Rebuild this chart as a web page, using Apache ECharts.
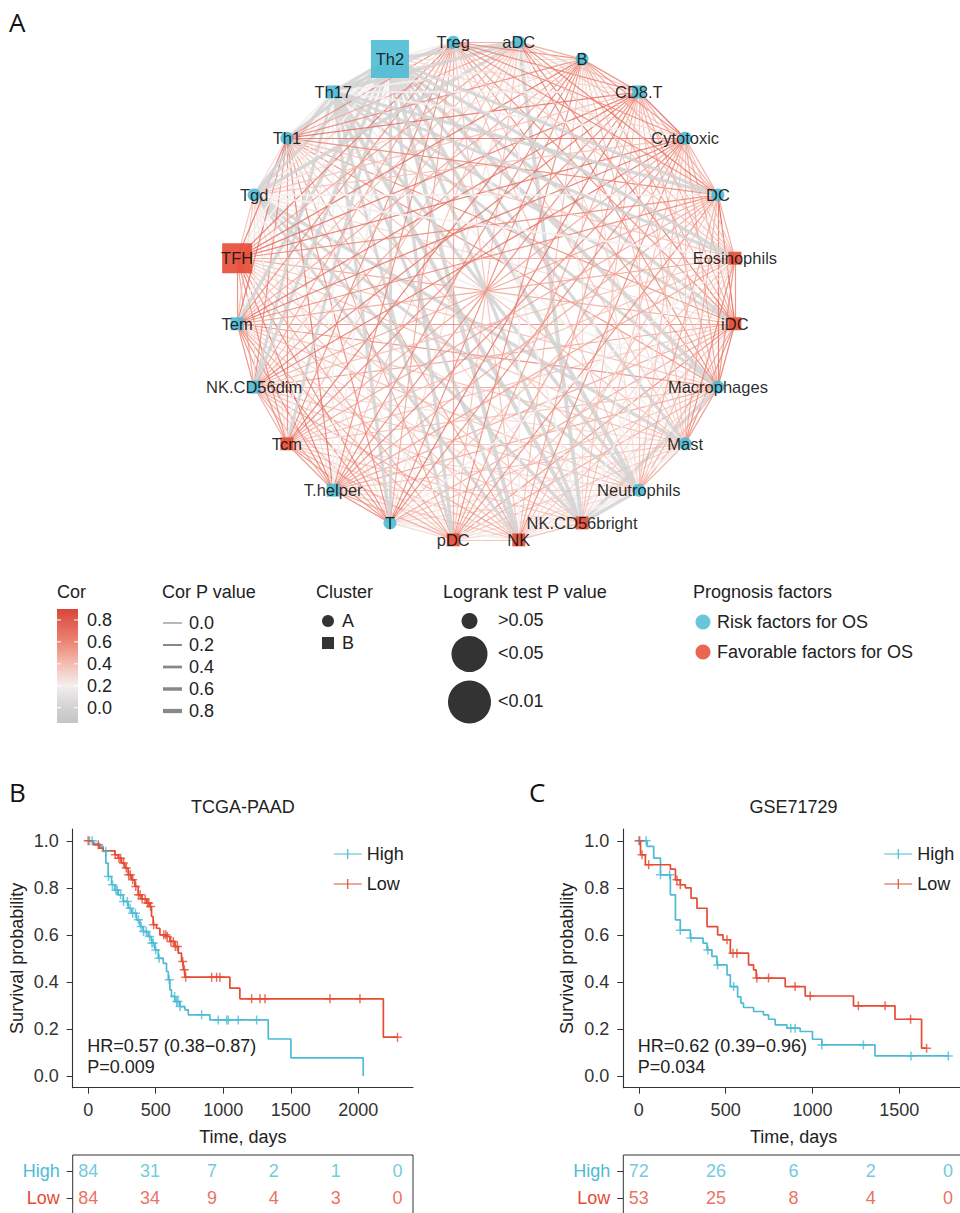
<!DOCTYPE html>
<html>
<head>
<meta charset="utf-8">
<title>Immune cell network and survival</title>
<script src="https://cdn.jsdelivr.net/npm/echarts@6.0.0/dist/echarts.min.js"></script>
<style>
html,body{margin:0;padding:0;background:#ffffff;}
#chart{width:960px;height:1213px;}
</style>
</head>
<body>
<div id="chart"></div>
<script>
/* ================= DATA ================= */
/* Panel A: immune-cell correlation network */
const cellTypes = ['iDC','Macrophages','Mast','Neutrophils','NK.CD56bright','NK','pDC','T','T.helper','Tcm','NK.CD56dim','Tem','TFH','Tgd','Th1','Th17','Th2','Treg','aDC','B','CD8.T','Cytotoxic','DC','Eosinophils'];
const cellCluster = ['B','A','A','A','B','B','B','A','B','B','B','B','B','A','A','B','B','A','A','A','B','A','A','B'];
const cellPrognosis = ['Favorable','Risk','Risk','Risk','Favorable','Favorable','Favorable','Risk','Risk','Favorable','Risk','Risk','Favorable','Risk','Risk','Risk','Risk','Risk','Risk','Risk','Risk','Risk','Risk','Favorable'];
const cellLogrankP = ['>0.05','>0.05','>0.05','>0.05','>0.05','>0.05','>0.05','>0.05','>0.05','>0.05','>0.05','>0.05','<0.05','>0.05','>0.05','>0.05','<0.01','>0.05','>0.05','>0.05','>0.05','>0.05','>0.05','>0.05'];
/* upper triangle, row i lists pairs (i, j>i); digit = Cor x 10 */
const corRows = [
 '76524655456536006755586','6503545456426006645576','523434434404204344456','02334344304004234454',
 '4323443403002034423','424454405004245643','35545525005465564','6656636005367642',
 '656737226466655','56636206476554','6536005457754','647206457765','47227577765',
 '3003034422','206567764','00022200','2033300','566664','54474','6654','854','54','5'];
/* same layout; digit = Cor P value x 10 */
const corPRows = [
 '00020000000000560000000','0060000000020580000000','030000000060250000000','63000000050680200000',
 '0020000060863700020','030000050680200000','00000020560000000','0000000650000002',
 '000000230000000','00000250000000','0000560000000','000260000000','00320000000',
 '0650600023','350000000','65732365','2600056','000000','00000','0000','000','00','0'];
const corLegendTicks = [0.8, 0.6, 0.4, 0.2, 0.0];
const pLegendTicks = [0.0, 0.2, 0.4, 0.6, 0.8];
const clusterLevels = ['A', 'B'];
const logrankLevels = ['>0.05', '<0.05', '<0.01'];
const prognosisLevels = ['Risk factors for OS', 'Favorable factors for OS'];

/* Panel B: TCGA-PAAD */
const tcgaHighTime = [0,40,86,111,131,148,173,198,222,259,296,321,358,383,407,444,469,494,519,556,580,593,605,617,642,679,716,741,901,1333,1501,2036];
const tcgaHighSurv = [1.0,0.988,0.976,0.955,0.905,0.848,0.813,0.791,0.77,0.742,0.713,0.692,0.664,0.635,0.614,0.593,0.565,0.536,0.5,0.479,0.444,0.409,0.366,0.338,0.316,0.295,0.281,0.26,0.238,0.157,0.077,0.0];
const tcgaHighCensor = [10,30,130,150,180,205,215,240,262,290,310,330,350,372,392,410,430,455,472,482,500,525,600,640,655,665,680,840,963,1025,1037,1111,1247];
const tcgaLowTime = [0,37,79,111,198,222,247,272,296,321,346,370,395,432,457,469,481,506,531,580,605,642,667,691,704,716,1049,1123,2185];
const tcgaLowSurv = [1.0,0.983,0.969,0.957,0.94,0.926,0.905,0.884,0.855,0.834,0.806,0.77,0.752,0.735,0.72,0.678,0.643,0.628,0.6,0.593,0.572,0.55,0.522,0.487,0.451,0.42,0.373,0.328,0.165];
const tcgaLowCensor = [0,75,200,228,240,262,282,300,312,330,352,372,385,400,422,440,448,462,485,560,575,585,612,630,645,660,700,712,722,914,951,975,1210,1272,1309,1790,2012,2290];
const tcgaRiskTimes = [0,458,916,1374,1832,2290];
const tcgaRiskHigh = [84,31,7,2,1,0];
const tcgaRiskLow = [84,34,9,4,3,0];
const tcgaStats = ['HR=0.57 (0.38\u22120.87)', 'P=0.009'];

/* Panel C: GSE71729 */
const gseHighTime = [0,48,86,125,182,211,239,297,370,393,421,450,508,527,569,588,603,661,718,747,785,853,929,1000,1054,1360];
const gseHighSurv = [1.0,0.976,0.926,0.855,0.77,0.664,0.62,0.586,0.565,0.536,0.508,0.472,0.43,0.38,0.336,0.31,0.291,0.274,0.26,0.241,0.217,0.203,0.189,0.156,0.132,0.085];
const gseHighCensor = [0,42,125,178,239,300,398,454,546,875,900,1054,1293,1567,1782];
const gseLowTime = [0,10,38,182,211,239,268,301,335,393,454,485,527,632,661,676,843,958,1236,1475,1628];
const gseLowSurv = [1.0,0.94,0.898,0.879,0.834,0.813,0.8,0.756,0.713,0.635,0.6,0.579,0.522,0.472,0.451,0.416,0.38,0.34,0.298,0.241,0.118];
const gseLowCensor = [5,19,57,220,239,508,542,565,680,747,900,987,1264,1418,1565,1657];
const gseRiskTimes = [0,445,890,1335,1780];
const gseRiskHigh = [72,26,6,2,0];
const gseRiskLow = [53,25,8,4,0];
const gseStats = ['HR=0.62 (0.39\u22120.96)', 'P=0.034'];

const riskGroups = ['High', 'Low'];
const xTicksB = [0,500,1000,1500,2000];
const xTicksC = [0,500,1000,1500];
const yTicks = [0,0.2,0.4,0.6,0.8,1.0];

/* ================= STYLE ================= */
const FONT = '"Liberation Sans", Arial, Helvetica, sans-serif';
const TEAL = '#4DBBD5', RED = '#E64B35', INK = '#222222', AX = '#333333';
const progColor = {Risk: '#4DBBD5', Favorable: '#E64B35'};
const nodeSize = {'>0.05': 13, '<0.05': 30, '<0.01': 38};
const legendDot = {'>0.05': 8, '<0.05': 18, '<0.01': 21.5};
const corStops = [[-0.14,'#c4c4c4'],[0.0,'#d2d2d2'],[0.2,'#f3efee'],[0.4,'#f5bcb2'],[0.6,'#ec8575'],[0.9,'#d8463a']];
function corColor(v){
  for (let i = 1; i < corStops.length; i++) {
    if (v <= corStops[i][0]) {
      const t = (v - corStops[i-1][0]) / (corStops[i][0] - corStops[i-1][0]);
      return echarts.color.lerp(Math.max(0, Math.min(1, t)), [corStops[i-1][1], corStops[i][1]]);
    }
  }
  return corStops[corStops.length-1][1];
}
const pWidth = p => 1.2 + p * 3.8;

/* ================= NETWORK ================= */
const nodes = cellTypes.map((name, i) => ({
  name: name,
  value: [1, i],
  symbol: cellCluster[i] === 'A' ? 'circle' : 'rect',
  symbolSize: nodeSize[cellLogrankP[i]],
  itemStyle: {color: progColor[cellPrognosis[i]], opacity: 0.9}
}));
const links = [];
corRows.forEach((row, i) => {
  for (let k = 0; k < row.length; k++) {
    const j = i + 1 + k;
    const cor = +row[k] / 10, p = +corPRows[i][k] / 10;
    links.push({source: cellTypes[i], target: cellTypes[j],
      lineStyle: {color: corColor(cor), width: pWidth(p), opacity: 0.85}});
  }
});

/* ================= KM PANELS ================= */
function survAt(T, S, t){ let s = S[0]; for (let i = 0; i < T.length; i++) { if (T[i] <= t) s = S[i]; else break; } return s; }
function stepData(T, S, C){
  const d = T.map((t, i) => [t, S[i]]);
  const last = Math.max.apply(null, C);
  if (last > T[T.length-1]) d.push([last, S[S.length-1]]);
  return d;
}
const plusIcon = 'path://M5,0L5,10M0,5L10,5';
const panels = [
  {title: 'TCGA-PAAD', left: 72.7, width: 340.3,
   hT: tcgaHighTime, hS: tcgaHighSurv, hC: tcgaHighCensor, lT: tcgaLowTime, lS: tcgaLowSurv, lC: tcgaLowCensor,
   rT: tcgaRiskTimes, rH: tcgaRiskHigh, rL: tcgaRiskLow, xTicks: xTicksB, stats: tcgaStats},
  {title: 'GSE71729', left: 623.3, width: 340.5,
   hT: gseHighTime, hS: gseHighSurv, hC: gseHighCensor, lT: gseLowTime, lS: gseLowSurv, lC: gseLowCensor,
   rT: gseRiskTimes, rH: gseRiskHigh, rL: gseRiskLow, xTicks: xTicksC, stats: gseStats}
];

const grids = [], xAxes = [], yAxes = [], series = [], legends = [], graphics = [];
const txtStyle = (size, color) => ({fontSize: size, color: color, fontFamily: FONT});
function addText(x, y, s, size, color, align, family){
  graphics.push({type: 'text', x: x, y: y, silent: true,
    style: {text: s, fill: color || INK, font: (size || 18) + 'px ' + (family || FONT),
      textAlign: align || 'left', textVerticalAlign: 'middle', align: align || 'left', verticalAlign: 'middle'}});
}

panels.forEach((P, pi) => {
  const gi = pi * 2;
  const tmax = Math.max.apply(null, P.hT.concat(P.lT, P.hC, P.lC));
  const xmin = -0.05 * tmax, xmax = 1.05 * tmax;
  grids.push({left: P.left, top: 829, width: P.width, height: 258.7, containLabel: false, outerBoundsMode: 'none'});
  grids.push({left: P.left, top: 1155, width: P.width, height: 100, show: true, borderColor: AX, borderWidth: 1,
    backgroundColor: 'transparent', containLabel: false, outerBoundsMode: 'none'});
  xAxes.push({gridIndex: gi, type: 'value', min: xmin, max: xmax,
    axisLine: {show: true, onZero: false, lineStyle: {color: AX, width: 1.1}},
    axisTick: {show: true, customValues: P.xTicks, length: 6, lineStyle: {color: AX}},
    axisLabel: {customValues: P.xTicks, margin: 13, formatter: v => String(Math.round(+v)), ...txtStyle(18, AX)},
    splitLine: {show: false},
    name: 'Time, days', nameLocation: 'middle', nameGap: 40, nameTextStyle: txtStyle(18, INK)});
  yAxes.push({gridIndex: gi, type: 'value', min: -0.05, max: 1.05,
    axisLine: {show: true, onZero: false, lineStyle: {color: AX, width: 1.1}},
    axisTick: {show: true, customValues: yTicks, length: 6, lineStyle: {color: AX}},
    axisLabel: {customValues: yTicks, margin: 14, formatter: v => (+v).toFixed(1), ...txtStyle(18, AX)},
    splitLine: {show: false},
    name: 'Survival probability', nameLocation: 'middle', nameRotate: 90, nameGap: 47, nameTextStyle: txtStyle(18, INK)});
  xAxes.push({gridIndex: gi + 1, type: 'value', min: xmin, max: xmax, show: false,
    axisLine: {onZero: false}, splitLine: {show: false}});
  yAxes.push({gridIndex: gi + 1, type: 'value', min: -0.6, max: 3.1, inverse: true, position: 'left',
    axisLine: {show: false, onZero: false},
    axisTick: {show: true, inside: false, customValues: [0, 1], length: 6, lineStyle: {color: AX}},
    axisLabel: {customValues: [0, 1], margin: 13, hideOverlap: false, formatter: v => riskGroups[Math.round(+v)],
      color: v => (Math.round(+v) === 0 ? TEAL : RED), fontSize: 18, fontFamily: FONT},
    splitLine: {show: false}});

  [['High', P.hT, P.hS, P.hC, TEAL, P.rH, 0], ['Low', P.lT, P.lS, P.lC, RED, P.rL, 1]].forEach(([nm, T, S, C, col, R, row]) => {
    series.push({type: 'line', name: nm, xAxisIndex: gi, yAxisIndex: gi, step: 'end', symbol: 'none',
      data: stepData(T, S, C), lineStyle: {color: col, width: 1.7}, itemStyle: {color: col},
      silent: true, animation: false, z: 3});
    series.push({type: 'scatter', name: nm, xAxisIndex: gi, yAxisIndex: gi, symbol: plusIcon, symbolSize: 9,
      data: C.map(t => [t, survAt(T, S, t)]),
      itemStyle: {color: 'transparent', borderColor: col, borderWidth: 1.5},
      silent: true, animation: false, z: 4});
    series.push({type: 'scatter', name: nm + ' at risk', xAxisIndex: gi + 1, yAxisIndex: gi + 1, symbolSize: 1,
      data: P.rT.map((t, k) => [t, row, R[k]]),
      itemStyle: {color: 'transparent'},
      label: {show: true, position: 'inside', formatter: p => String(p.value[2]), color: col, fontSize: 18, fontFamily: FONT},
      labelLayout: {hideOverlap: false},
      silent: true, animation: false});
  });

  legends.push({data: ['High', 'Low'], orient: 'vertical', left: P.left + 256, top: 840,
    itemWidth: 28, itemHeight: 10, itemGap: 12, selectedMode: false,
    icon: 'path://M0,4.4L28,4.4L28,5.6L0,5.6Z M13.4,0L14.6,0L14.6,10L13.4,10Z',
    textStyle: {fontSize: 18, color: INK, fontFamily: FONT}});

  addText(P.left + P.width / 2, 807, P.title, 18, INK, 'center');
  addText(P.left + 14.5, 1046, P.stats[0], 18, INK, 'left');
  addText(P.left + 14.5, 1067, P.stats[1], 18, INK, 'left');
});

/* ================= PANEL LETTERS ================= */
addText(9, 22, 'A', 26, '#111', 'left', '"Open Sans", sans-serif');
addText(9, 792, 'B', 26, '#111', 'left', '"Open Sans", sans-serif');
addText(529, 792, 'C', 26, '#111', 'left', '"Open Sans", sans-serif');

/* ================= NETWORK LEGENDS ================= */
const LG = '#333333';
const barTop = 609, barH = 114, corHi = 0.9, corLo = -0.14;
const corY = v => barTop + (corHi - v) / (corHi - corLo) * barH;
addText(57, 592, 'Cor', 18, INK);
graphics.push({type: 'rect', silent: true, shape: {x: 57, y: barTop, width: 21, height: barH},
  style: {fill: new echarts.graphic.LinearGradient(0, 0, 0, 1,
    corStops.slice().reverse().map(s => ({offset: Math.max(0, Math.min(1, (corHi - s[0]) / (corHi - corLo))), color: s[1]})))}});
corLegendTicks.forEach(v => {
  const y = corY(v);
  graphics.push({type: 'line', silent: true, shape: {x1: 57, y1: y, x2: 61, y2: y}, style: {stroke: '#fff', lineWidth: 1}});
  graphics.push({type: 'line', silent: true, shape: {x1: 74, y1: y, x2: 78, y2: y}, style: {stroke: '#fff', lineWidth: 1}});
  addText(87, y, v.toFixed(1), 18, INK);
});
addText(162, 592, 'Cor P value', 18, INK);
pLegendTicks.forEach((p, i) => {
  const y = 623 + i * 22;
  graphics.push({type: 'line', silent: true, shape: {x1: 163, y1: y, x2: 182, y2: y}, style: {stroke: '#888', lineWidth: pWidth(p)}});
  addText(189, y, p.toFixed(1), 18, INK);
});
addText(316, 592, 'Cluster', 18, INK);
clusterLevels.forEach((c, i) => {
  const y = 621 + i * 22;
  if (c === 'A') graphics.push({type: 'circle', silent: true, shape: {cx: 328, cy: y, r: 6}, style: {fill: LG}});
  else graphics.push({type: 'rect', silent: true, shape: {x: 322, y: y - 6, width: 12, height: 12}, style: {fill: LG}});
  addText(342, y, c, 18, INK);
});
addText(443, 592, 'Logrank test P value', 18, INK);
const lrY = [621, 654, 702];
logrankLevels.forEach((l, i) => {
  graphics.push({type: 'circle', silent: true, shape: {cx: 469.5, cy: lrY[i], r: legendDot[l]}, style: {fill: LG}});
  addText(498, lrY[i] - 1, l, 18, INK);
});
addText(693, 592, 'Prognosis factors', 18, INK);
prognosisLevels.forEach((l, i) => {
  const y = 622 + i * 30;
  graphics.push({type: 'circle', silent: true, shape: {cx: 703, cy: y, r: 7.5},
    style: {fill: i === 0 ? TEAL : RED, opacity: 0.85}});
  addText(717, y, l, 18, INK);
});

/* ================= NETWORK SERIES ================= */
series.push({
  type: 'graph', coordinateSystem: 'polar', polarIndex: 0, layout: 'none',
  data: nodes, links: links, silent: true, animation: false, z: 2,
  label: {show: true, position: 'inside', color: '#111', fontSize: 16.5, fontFamily: FONT},
  lineStyle: {curveness: 0},
  emphasis: {disabled: true}
});

const chart = echarts.init(document.getElementById('chart'), null, {renderer: 'svg', width: 960, height: 1213});
chart.setOption({
  backgroundColor: '#ffffff',
  animation: false,
  textStyle: {fontFamily: FONT},
  polar: [{center: [486, 291], radius: 251}],
  angleAxis: [{polarIndex: 0, type: 'category', data: cellTypes, startAngle: 0, clockwise: true, boundaryGap: true,
    axisLine: {show: false}, axisTick: {show: false}, axisLabel: {show: false}, splitLine: {show: false}}],
  radiusAxis: [{polarIndex: 0, type: 'value', min: 0, max: 1,
    axisLine: {show: false}, axisTick: {show: false}, axisLabel: {show: false}, splitLine: {show: false}}],
  grid: grids,
  xAxis: xAxes,
  yAxis: yAxes,
  legend: legends,
  graphic: {elements: graphics},
  series: series
});
</script>
</body>
</html>
